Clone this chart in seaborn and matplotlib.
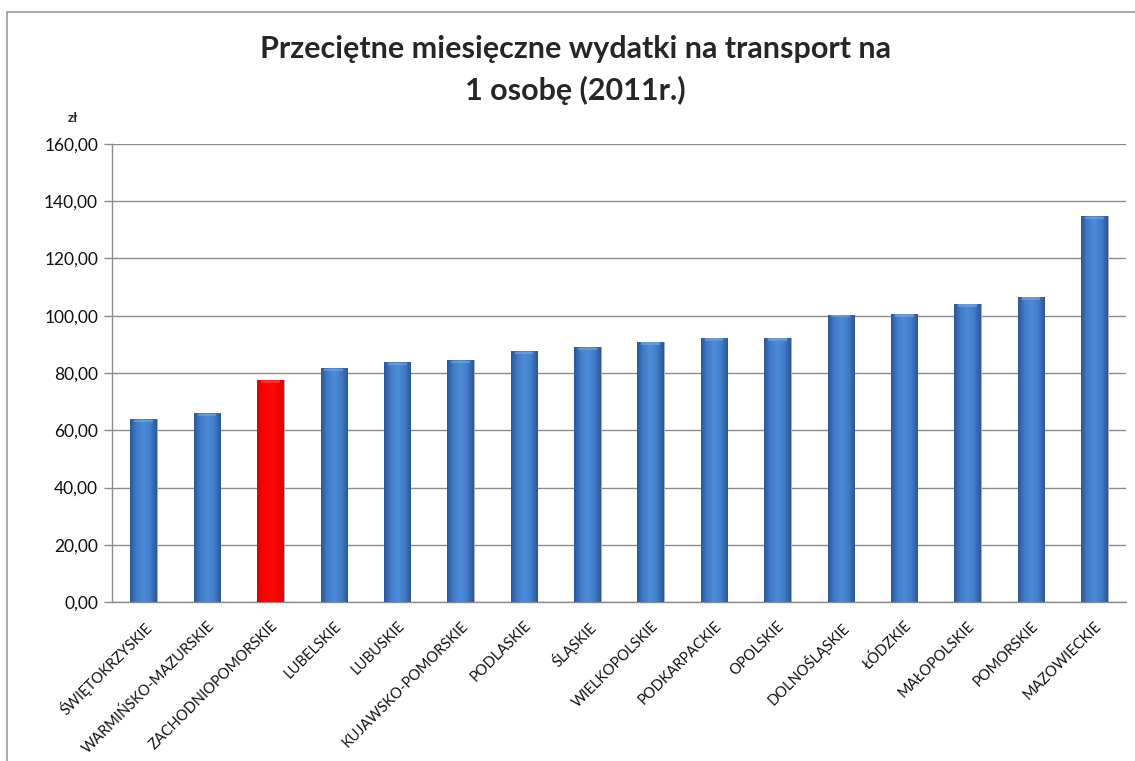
import numpy as np
import pandas as pd
import matplotlib
matplotlib.use("Agg")
import matplotlib.pyplot as plt
from matplotlib.patches import Rectangle
import seaborn as sns

regions = ["ŚWIĘTOKRZYSKIE", "WARMIŃSKO-MAZURSKIE", "ZACHODNIOPOMORSKIE", "LUBELSKIE",
           "LUBUSKIE", "KUJAWSKO-POMORSKIE", "PODLASKIE", "ŚLĄSKIE", "WIELKOPOLSKIE",
           "PODKARPACKIE", "OPOLSKIE", "DOLNOŚLĄSKIE", "ŁÓDZKIE", "MAŁOPOLSKIE",
           "POMORSKIE", "MAZOWIECKIE"]
expenses = [63.8, 65.9, 77.6, 81.7, 83.7, 84.5, 87.6, 89.0, 90.9, 92.3, 92.3,
            100.4, 100.7, 104.2, 106.6, 134.7]
highlight = "ZACHODNIOPOMORSKIE"
y_ticks = [0, 20, 40, 60, 80, 100, 120, 140, 160]

df = pd.DataFrame({"region": regions, "value": expenses})
df["group"] = np.where(df["region"] == highlight, "hl", "base")

sns.set_theme(style="white")
plt.rcParams["font.family"] = ["Lato", "DejaVu Sans"]

fig = plt.figure(figsize=(11.35, 7.61), dpi=100)
ax = fig.add_axes([112 / 1135, 1 - 602 / 761, (1126 - 112) / 1135, (602 - 144) / 761])

sns.barplot(data=df, x="region", y="value", hue="group",
            palette={"base": "#3b6fb5", "hl": "#ff0000"},
            width=0.42, dodge=False, legend=False, ax=ax, zorder=3)

# cylinder-like shading on each bar
grad_blue = np.array([[0.17, 0.34, 0.60], [0.26, 0.49, 0.79], [0.30, 0.55, 0.85],
                      [0.26, 0.49, 0.79], [0.17, 0.34, 0.60]])
grad_red = np.array([[0.88, 0.0, 0.0], [1.0, 0.0, 0.0], [1.0, 0.03, 0.03],
                     [1.0, 0.0, 0.0], [0.88, 0.0, 0.0]])
xs = np.linspace(0, 1, 64)
for patch in list(ax.patches):
    x0, y0 = patch.get_x(), patch.get_y()
    w, h = patch.get_width(), patch.get_height()
    if h <= 0:
        continue
    reg = regions[int(round(x0 + w / 2))]
    is_hl = reg == highlight
    g = grad_red if is_hl else grad_blue
    pos = np.linspace(0, 1, len(g))
    img = np.stack([np.interp(xs, pos, g[:, c]) for c in range(3)], axis=-1)[None, :, :]
    im = ax.imshow(img, extent=[x0, x0 + w, y0, y0 + h], aspect="auto",
                   zorder=3.5, interpolation="bilinear")
    im.set_clip_path(patch)
    # soft light cap at the top
    cap_col = "#ff4040" if is_hl else "#6fa3e6"
    ax.add_patch(Rectangle((x0 + w * 0.15, y0 + h - 1.0), w * 0.70, 0.8,
                           facecolor=cap_col, edgecolor="none", alpha=0.7, zorder=3.6))
    patch.set_edgecolor("#a8b0b8")
    patch.set_linewidth(0.7)

ax.set_xlim(-0.5, len(regions) - 0.5)
ax.set_ylim(0, 160)
ax.set_yticks(y_ticks)
ax.set_yticklabels([f"{v:.2f}".replace(".", ",") for v in y_ticks], fontsize=12.5, color="#111111")
ax.yaxis.grid(True, color="#8c8c8c", linewidth=1.0, zorder=0)
ax.set_axisbelow(True)
ax.set_xlabel("")
ax.set_ylabel("")

ax.set_xticks(range(len(regions)))
ax.set_xticklabels(regions, rotation=45, ha="right", rotation_mode="anchor",
                   fontsize=10.5, color="#111111")
ax.tick_params(axis="x", which="major", length=0, pad=12)
ax.set_xticks(np.arange(-0.5, len(regions), 1.0), minor=True)
ax.tick_params(axis="x", which="minor", length=6, color="#8c8c8c", width=1.0, direction="out")
ax.tick_params(axis="y", length=6, color="#8c8c8c", width=1.0, direction="out", left=True, pad=4)

for side in ["top", "right"]:
    ax.spines[side].set_visible(False)
for side in ["left", "bottom"]:
    ax.spines[side].set_color("#8c8c8c")
    ax.spines[side].set_linewidth(1.0)

fig.text(73 / 1135, 1 - 118 / 761, "zł", fontsize=9.5, fontweight="bold",
         ha="center", va="center")
fig.text(575 / 1135, 1 - 70 / 761,
         "Przeciętne miesięczne wydatki na transport na\n1 osobę (2011r.)",
         fontsize=22, fontweight="bold", ha="center", va="center", linespacing=1.5)

# outer chart frame
fig.add_artist(Rectangle((7 / 1135, -0.01), 1.2, 1 - 12 / 761 + 0.01,
                         transform=fig.transFigure, fill=False,
                         edgecolor="#9a9a9a", linewidth=1.2))

fig.savefig("out.png", dpi=100, facecolor="white")
